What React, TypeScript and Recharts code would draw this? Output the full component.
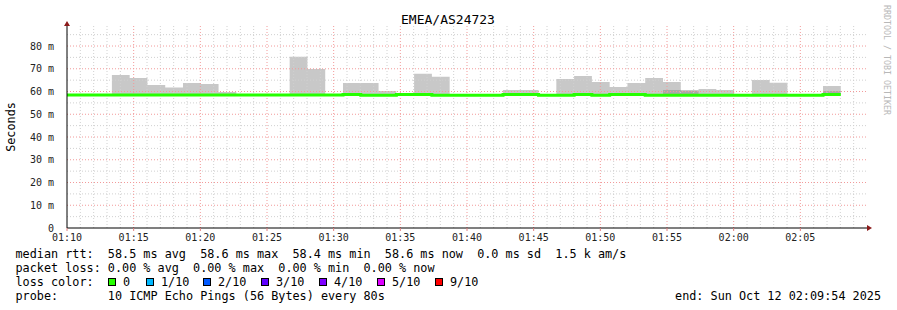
import React from "react";
import {
  ComposedChart,
  Area,
  Line,
  XAxis,
  YAxis,
  ReferenceLine,
  ReferenceDot,
} from "recharts";

// start of each 80s step (last entry closes the final step)
const stepTimes = [
  "01:09:22", "01:10:42", "01:12:02", "01:13:22", "01:14:42", "01:16:02", "01:17:22", "01:18:42",
  "01:20:02", "01:21:22", "01:22:42", "01:24:02", "01:25:22", "01:26:42", "01:28:02", "01:29:22",
  "01:30:42", "01:32:02", "01:33:22", "01:34:42", "01:36:02", "01:37:22", "01:38:42", "01:40:02",
  "01:41:22", "01:42:42", "01:44:02", "01:45:22", "01:46:42", "01:48:02", "01:49:22", "01:50:42",
  "01:52:02", "01:53:22", "01:54:42", "01:56:02", "01:57:22", "01:58:42", "02:00:02", "02:01:22",
  "02:02:42", "02:04:02", "02:05:22", "02:06:42", "02:08:02",
];

// median rtt (ms)
const medianMs = [
  58.5, 58.5, 58.5, 58.5, 58.5, 58.5, 58.5, 58.5, 58.5, 58.5, 58.5, 58.5, 58.5, 58.5, 58.5, 58.5,
  58.65, 58.4, 58.4, 58.65, 58.65, 58.4, 58.4, 58.4, 58.4, 58.65, 58.65, 58.4, 58.4, 58.65, 58.4,
  58.65, 58.65, 58.4, 58.4, 58.4, 58.4, 58.4, 58.4, 58.4, 58.4, 58.4, 58.4, 58.65, 58.65,
];

// highest ping per step (ms), null = no visible smoke
const smokeTopMs = [
  null, null, null, 67.3, 65.9, 62.9, 61.8, 63.7, 63.3, 59.8, null, null, null, 75.3, 69.9, null,
  63.7, 63.7, 60.2, null, 67.8, 66.5, null, null, null, 60.7, 60.7, null, 65.5, 66.8, 64.2, 62.0,
  63.7, 65.9, 64.2, 60.4, 61.1, 60.7, null, 65.1, 63.9, null, null, 62.4, 62.4,
];

// denser smoke band (ms)
const darkTopMs = [
  null, null, null, null, null, null, null, null, null, null, null, null, null, null, null, null,
  null, null, null, null, null, null, null, null, null, null, null, null, null, null, null, null,
  null, null, 60.7, 60.4, null, null, null, null, null, null, null, 60.2, 60.2,
];

const xTicks = [0, 300, 600, 900, 1200, 1500, 1800, 2100, 2400, 2700, 3000, 3300];
const xTickLabels = ["01:10", "01:15", "01:20", "01:25", "01:30", "01:35", "01:40", "01:45", "01:50", "01:55", "02:00", "02:05"];
const yTicks = [0, 10, 20, 30, 40, 50, 60, 70, 80];
const yMax = 88.8;

const lossColors = [
  { label: "0", color: "#26ff00" },
  { label: "1/10", color: "#00b8ff" },
  { label: "2/10", color: "#0059ff" },
  { label: "3/10", color: "#5e00ff" },
  { label: "4/10", color: "#7e00ff" },
  { label: "5/10", color: "#dd00ff" },
  { label: "9/10", color: "#ff0000" },
];
const lossX = [108, 146, 203, 261, 319, 377, 435];

const toSec = (s: string) => {
  const [h, m, sec] = s.split(":").map(Number);
  return (h - 1) * 3600 + (m - 10) * 60 + sec;
};

const data = stepTimes.map((t, i) => {
  const med = medianMs[i];
  const top = smokeTopMs[i] ?? med;
  const dark = darkTopMs[i] ?? med;
  return { t: toSec(t), median: med, smoke: [med, top], dark: [med, dark] };
});

const minorX: number[] = [];
for (let s = 60; s < 3600; s += 60) if (s % 300 !== 0) minorX.push(s);
const majorX = xTicks.filter((v) => v > 0);
const minorY = [5, 15, 25, 35, 45, 55, 65, 75, 85];
const majorY = yTicks.filter((v) => v > 0);

const mono = "'DejaVu Sans Mono', monospace";
const pre = { whiteSpace: "pre" as const };

function Txt(props: any) {
  return <text xmlSpace="preserve" style={pre} fontSize={11.8} {...props} />;
}

export default function App() {
  return (
    <div style={{ position: "fixed", left: 0, top: 0, width: 897, height: 310, background: "#fff" }}>
      <ComposedChart width={897} height={310} data={data} margin={{ top: 26, right: 30, left: 0, bottom: 0 }}>
        <XAxis
          dataKey="t"
          type="number"
          domain={[0, 3600]}
          allowDataOverflow
          ticks={xTicks}
          tickFormatter={(v: number) => xTickLabels[xTicks.indexOf(v)] ?? ""}
          height={82}
          axisLine={{ stroke: "#000" }}
          tickLine={{ stroke: "#e08080" }}
          tickSize={3}
          tickMargin={3}
          tick={{ fontFamily: mono, fontSize: 10, fill: "#222" }}
        />
        <YAxis
          type="number"
          domain={[0, yMax]}
          allowDataOverflow
          ticks={yTicks}
          tickFormatter={(v: number) => (v === 0 ? "0" : `${v} m`)}
          width={67}
          axisLine={{ stroke: "#000" }}
          tickLine={false}
          tickMargin={7}
          tick={{ fontFamily: mono, fontSize: 10, fill: "#222" }}
        />
        <Area dataKey="smoke" type="stepAfter" fill="#c8c8c8" fillOpacity={1} stroke="none" isAnimationActive={false} />
        <Area dataKey="dark" type="stepAfter" fill="#a9a9a9" fillOpacity={1} stroke="none" isAnimationActive={false} />
        {minorX.map((x) => (
          <ReferenceLine key={`mx${x}`} x={x} stroke="#d0d0d0" strokeDasharray="1 2" />
        ))}
        {minorY.map((y) => (
          <ReferenceLine key={`my${y}`} y={y} stroke="#d0d0d0" strokeDasharray="1 2" />
        ))}
        {majorX.map((x) => (
          <ReferenceLine key={`Mx${x}`} x={x} stroke="#f29a9a" strokeDasharray="1 2" />
        ))}
        {majorY.map((y) => (
          <ReferenceLine key={`My${y}`} y={y} stroke="#f29a9a" strokeDasharray="1 2" />
        ))}
        <Line dataKey="median" type="stepAfter" stroke="#26ff00" strokeWidth={3} dot={false} isAnimationActive={false} />
        <ReferenceDot
          x={0}
          y={yMax}
          r={0}
          ifOverflow="visible"
          shape={(p: any) => (
            <path d={`M${p.cx - 3},${p.cy} L${p.cx + 3},${p.cy} L${p.cx},${p.cy - 5} Z`} fill="#8b1a1a" />
          )}
        />
        <ReferenceDot
          x={3600}
          y={0}
          r={0}
          ifOverflow="visible"
          shape={(p: any) => (
            <path d={`M${p.cx},${p.cy - 3} L${p.cx},${p.cy + 3} L${p.cx + 5},${p.cy} Z`} fill="#8b1a1a" />
          )}
        />
      </ComposedChart>
      <svg width={897} height={310} style={{ position: "absolute", left: 0, top: 0, pointerEvents: "none" }}>
        <g fontFamily={mono} fill="#000">
          <text x={448} y={24} fontSize={13} textAnchor="middle">EMEA/AS24723</text>
          <text x={0} y={0} fontSize={11.8} textAnchor="middle" transform="translate(15,127) rotate(-90)">Seconds</text>
          <text x={0} y={0} fontSize={8.3} fill="#b8b8b8" textAnchor="middle" transform="translate(884,60) rotate(90)">
            RRDTOOL / TOBI OETIKER
          </text>
          <Txt x={15.5} y={258.3}>{"median rtt:  58.5 ms avg  58.6 ms max  58.4 ms min  58.6 ms now  0.0 ms sd  1.5 k am/s"}</Txt>
          <Txt x={15.5} y={272.3}>{"packet loss: 0.00 % avg  0.00 % max  0.00 % min  0.00 % now"}</Txt>
          <Txt x={15.5} y={286.3}>{"loss color:"}</Txt>
          {lossColors.map((c, i) => (
            <g key={c.label}>
              <rect x={lossX[i] + 0.5} y={278.5} width={7} height={7} fill={c.color} stroke="#000" strokeWidth={1} />
              <Txt x={lossX[i] + 15} y={286.3}>{c.label}</Txt>
            </g>
          ))}
          <Txt x={15.5} y={300.3}>{"probe:       10 ICMP Echo Pings (56 Bytes) every 80s"}</Txt>
          <Txt x={881} y={300.3} textAnchor="end">{"end: Sun Oct 12 02:09:54 2025"}</Txt>
        </g>
      </svg>
    </div>
  );
}
